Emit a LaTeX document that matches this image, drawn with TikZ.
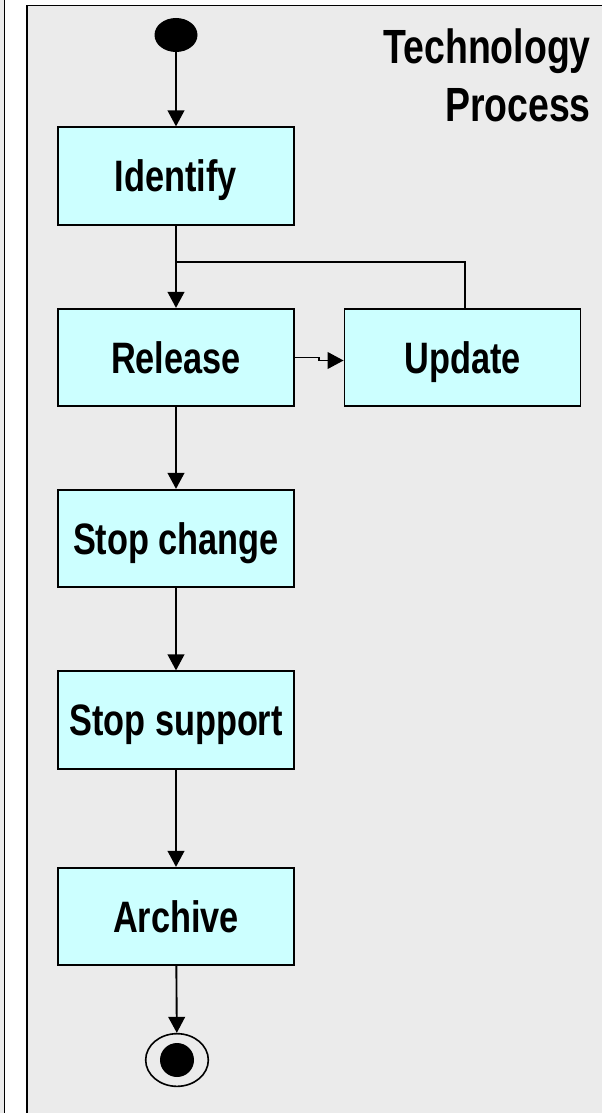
\documentclass[tikz,border=0pt]{standalone}
\usepackage{fontspec}
\setmainfont{Liberation Sans}[FakeStretch=0.78]
\usetikzlibrary{arrows.meta,shapes.geometric}
\definecolor{panelgray}{RGB}{235,235,235}
\definecolor{boxcyan}{RGB}{204,255,255}

\begin{document}
\begin{tikzpicture}[x=0.75pt,y=0.75pt,yscale=-1,xscale=1,
  activity/.style={draw,line width=1.4pt,fill=boxcyan,minimum width=177pt,minimum height=73pt,inner sep=0pt,text height=23.5pt,text depth=0pt,font=\fontsize{33}{38}\selectfont\bfseries},
  flow/.style={line width=1.4pt,-{Triangle[length=12pt,width=12.5pt]}},
  link/.style={line width=1.4pt}]

\useasboundingbox (0,0) rectangle (601,1113);
%Background
\fill[panelgray] (0,0) rectangle (601,1113);
\fill[white] (4.5,0) rectangle (601,1113);
\draw[line width=1.4pt] (4.5,-5) -- (4.5,1120);
%Shape: Panel
\draw[line width=1.4pt,fill=panelgray] (27,1120) -- (27,5.5) -- (610,5.5) -- (610,1120);

%Title
\node[anchor=north east,align=right,inner sep=0pt,font=\fontsize{36}{43.8}\selectfont\bfseries] (title) at (591,28) {Technology\\Process};

%Initial and final states
\node[ellipse,fill=black,minimum width=32.25pt,minimum height=25.5pt,inner sep=0pt] (start) at (176,35) {};
\node[ellipse,draw,line width=1.2pt,minimum width=47pt,minimum height=39.5pt,inner sep=0pt] (finish) at (177,1060) {};
\node[circle,fill=black,minimum size=25.5pt,inner sep=0pt] (finishdot) at (finish.center) {};

%Activities
\node[activity] (ident) at (176,176) {Identify};
\node[activity] (rel) at (176,357.5) {Release};
\node[activity] (upd) at (462.5,357.5) {Update};
\node[activity] (stopch) at (176,538.5) {Stop change};
\node[activity] (stopsup) at (176,720) {Stop support};
\node[activity] (arch) at (176,916.5) {Archive};

%Straight Lines
\coordinate (merge) at (176,262);
\coordinate (jog) at (319,360.5);
\draw[flow] (start) -- (ident);
\draw[flow] (ident) -- (rel);
\draw[link] ([xshift=2pt]upd.north) |- (merge);
\draw[flow] (rel.east) -- (rel.east -| jog) -- (jog) -- (jog -| upd.west);
\draw[flow] (rel) -- (stopch);
\draw[flow] (stopch) -- (stopsup);
\draw[flow] (stopsup) -- (arch);
\draw[flow] (arch) -- (finish);

\end{tikzpicture}
\end{document}
